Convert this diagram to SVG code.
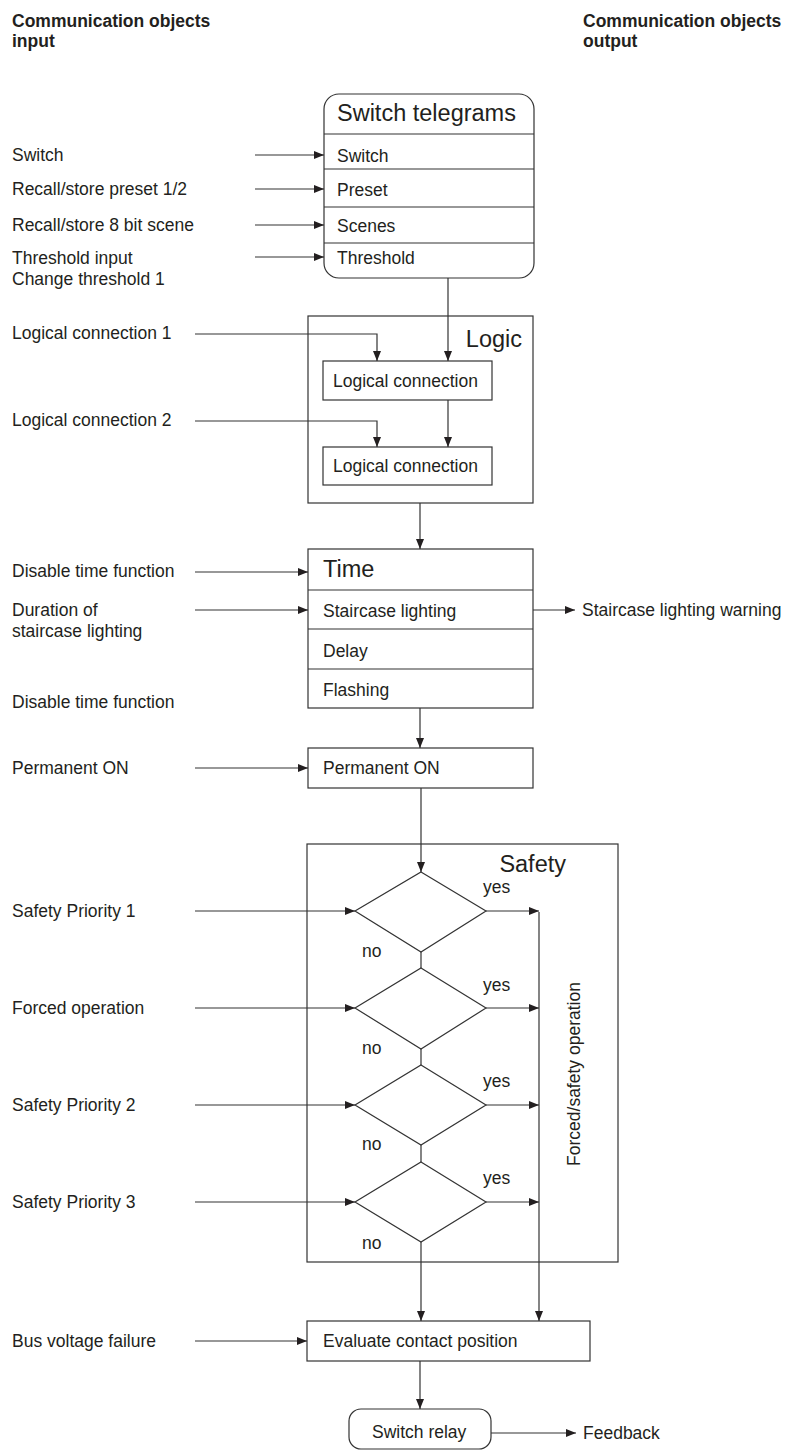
<svg xmlns="http://www.w3.org/2000/svg" width="797" height="1450" viewBox="0 0 797 1450">
<style>
text{font-family:"Liberation Sans",Arial,sans-serif;fill:#231f20;font-size:17.5px}
.h{font-weight:bold}
.t{font-size:23.5px}
.b{fill:#fff;stroke:#333;stroke-width:1.2}
.l{fill:none;stroke:#333;stroke-width:1.2}
</style>
<defs>
<marker id="a" viewBox="0 0 10 8" refX="10" refY="4" markerWidth="10" markerHeight="8" markerUnits="userSpaceOnUse" orient="auto">
<path d="M0,0 L10,4 L0,8 Z" fill="#231f20"/>
</marker>
</defs>
<rect width="797" height="1450" fill="#fff"/>
<g id="headers">
<text class="h" x="12" y="27">Communication objects</text>
<text class="h" x="12" y="47">input</text>
<text class="h" x="583" y="27">Communication objects</text>
<text class="h" x="583" y="47">output</text>
</g>
<g id="inputs">
<text x="12" y="161">Switch</text>
<text x="12" y="195">Recall/store preset 1/2</text>
<text x="12" y="231">Recall/store 8 bit scene</text>
<text x="12" y="264">Threshold input</text>
<text x="12" y="285">Change threshold 1</text>
<text x="12" y="339">Logical connection 1</text>
<text x="12" y="426">Logical connection 2</text>
<text x="12" y="577">Disable time function</text>
<text x="12" y="616">Duration of</text>
<text x="12" y="637">staircase lighting</text>
<text x="12" y="708">Disable time function</text>
<text x="12" y="774">Permanent ON</text>
<text x="12" y="917">Safety Priority 1</text>
<text x="12" y="1014">Forced operation</text>
<text x="12" y="1111">Safety Priority 2</text>
<text x="12" y="1208">Safety Priority 3</text>
<text x="12" y="1347">Bus voltage failure</text>
</g>
<g id="switch-telegrams">
<rect class="b" x="324" y="94" width="210" height="184" rx="15"/>
<line class="l" x1="324" y1="134" x2="534" y2="134"/>
<line class="l" x1="324" y1="169" x2="534" y2="169"/>
<line class="l" x1="324" y1="207" x2="534" y2="207"/>
<line class="l" x1="324" y1="243" x2="534" y2="243"/>
<text class="t" x="337" y="121">Switch telegrams</text>
<text x="337" y="162">Switch</text>
<text x="337" y="196">Preset</text>
<text x="337" y="232">Scenes</text>
<text x="337" y="264">Threshold</text>
</g>
<g id="logic">
<rect class="b" x="308" y="316" width="225" height="187"/>
<text class="t" x="522" y="347" text-anchor="end">Logic</text>
<rect class="b" x="323" y="361" width="169" height="39"/>
<text x="333" y="387">Logical connection</text>
<rect class="b" x="323" y="447" width="169" height="38"/>
<text x="333" y="472">Logical connection</text>
</g>
<g id="time">
<rect class="b" x="308" y="549" width="225" height="159"/>
<line class="l" x1="308" y1="590" x2="533" y2="590"/>
<line class="l" x1="308" y1="629" x2="533" y2="629"/>
<line class="l" x1="308" y1="669" x2="533" y2="669"/>
<text class="t" x="323" y="577">Time</text>
<text x="323" y="617">Staircase lighting</text>
<text x="323" y="657">Delay</text>
<text x="323" y="696">Flashing</text>
</g>
<g id="output-warning">
<text x="582" y="616">Staircase lighting warning</text>
</g>
<g id="permanent-on">
<rect class="b" x="308" y="748" width="225" height="40"/>
<text x="323" y="774">Permanent ON</text>
</g>
<g id="safety">
<rect class="b" x="307" y="844" width="311" height="418"/>
<text class="t" x="566" y="872" text-anchor="end">Safety</text>
<polygon class="b" points="421,872 486,911 421,952 355,911"/>
<polygon class="b" points="421,968 486,1008 421,1049 355,1008"/>
<polygon class="b" points="421,1065 486,1105 421,1145 355,1105"/>
<polygon class="b" points="421,1162 486,1202 421,1242 355,1202"/>
<text x="483" y="893">yes</text>
<text x="483" y="991">yes</text>
<text x="483" y="1087">yes</text>
<text x="483" y="1184">yes</text>
<text x="362" y="957">no</text>
<text x="362" y="1054">no</text>
<text x="362" y="1150">no</text>
<text x="362" y="1249">no</text>
<text x="580" y="1074" text-anchor="middle" transform="rotate(-90 580 1074)">Forced/safety operation</text>
</g>
<g id="evaluate">
<rect class="b" x="307" y="1321" width="283" height="40"/>
<text x="323" y="1347">Evaluate contact position</text>
</g>
<g id="switch-relay">
<rect class="b" x="349" y="1409" width="142" height="40" rx="12"/>
<text x="372" y="1438">Switch relay</text>
<text x="583" y="1439">Feedback</text>
</g>
<g id="connectors" class="l">
<line class="l" x1="255" y1="155" x2="324" y2="155" marker-end="url(#a)"/>
<line class="l" x1="255" y1="189" x2="324" y2="189" marker-end="url(#a)"/>
<line class="l" x1="255" y1="225" x2="324" y2="225" marker-end="url(#a)"/>
<line class="l" x1="255" y1="257" x2="324" y2="257" marker-end="url(#a)"/>
<line class="l" x1="448" y1="278" x2="448" y2="361" marker-end="url(#a)"/>
<polyline class="l" points="195,334 377,334 377,361" marker-end="url(#a)"/>
<polyline class="l" points="195,421 377,421 377,447" marker-end="url(#a)"/>
<line class="l" x1="448" y1="400" x2="448" y2="447" marker-end="url(#a)"/>
<line class="l" x1="420" y1="503" x2="420" y2="549" marker-end="url(#a)"/>
<line class="l" x1="195" y1="572" x2="308" y2="572" marker-end="url(#a)"/>
<line class="l" x1="195" y1="610" x2="308" y2="610" marker-end="url(#a)"/>
<line class="l" x1="533" y1="610" x2="575" y2="610" marker-end="url(#a)"/>
<line class="l" x1="420" y1="708" x2="420" y2="748" marker-end="url(#a)"/>
<line class="l" x1="195" y1="768" x2="308" y2="768" marker-end="url(#a)"/>
<line class="l" x1="421" y1="788" x2="421" y2="872" marker-end="url(#a)"/>
<line class="l" x1="195" y1="911" x2="355" y2="911" marker-end="url(#a)"/>
<line class="l" x1="195" y1="1008" x2="355" y2="1008" marker-end="url(#a)"/>
<line class="l" x1="195" y1="1105" x2="355" y2="1105" marker-end="url(#a)"/>
<line class="l" x1="195" y1="1202" x2="355" y2="1202" marker-end="url(#a)"/>
<line class="l" x1="486" y1="911" x2="539" y2="911" marker-end="url(#a)"/>
<line class="l" x1="486" y1="1008" x2="539" y2="1008" marker-end="url(#a)"/>
<line class="l" x1="486" y1="1105" x2="539" y2="1105" marker-end="url(#a)"/>
<line class="l" x1="486" y1="1202" x2="539" y2="1202" marker-end="url(#a)"/>
<line class="l" x1="421" y1="952" x2="421" y2="968"/>
<line class="l" x1="421" y1="1049" x2="421" y2="1065"/>
<line class="l" x1="421" y1="1145" x2="421" y2="1162"/>
<line class="l" x1="539" y1="912" x2="539" y2="1321" marker-end="url(#a)"/>
<line class="l" x1="421" y1="1242" x2="421" y2="1321" marker-end="url(#a)"/>
<line class="l" x1="195" y1="1341" x2="307" y2="1341" marker-end="url(#a)"/>
<line class="l" x1="420" y1="1361" x2="420" y2="1409" marker-end="url(#a)"/>
<line class="l" x1="491" y1="1433" x2="576" y2="1433" marker-end="url(#a)"/>
</g>
</svg>
